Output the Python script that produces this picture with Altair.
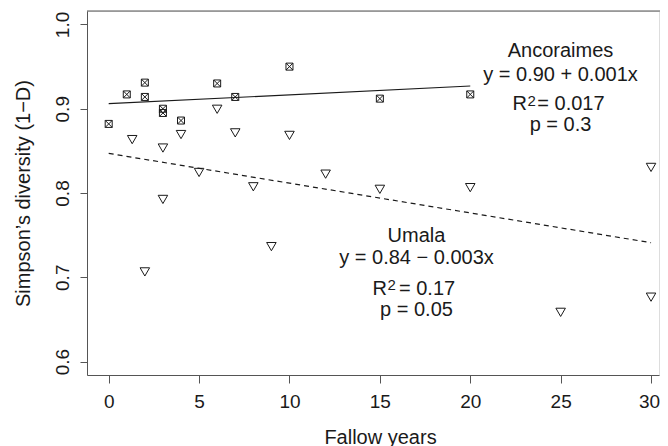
import altair as alt
import pandas as pd

# ---- data ----
anc_years = [0, 1, 2, 2, 3, 3, 4, 6, 7, 10, 15, 20]
anc_div = [0.882, 0.917, 0.931, 0.914, 0.900, 0.895, 0.886, 0.930, 0.914, 0.950, 0.912, 0.917]

uma_years = [1.3, 2, 3, 3, 4, 5, 6, 7, 8, 9, 10, 12, 15, 20, 25, 30, 30]
uma_div = [0.865, 0.708, 0.855, 0.794, 0.871, 0.826, 0.901, 0.873, 0.809, 0.738, 0.870,
           0.824, 0.806, 0.808, 0.660, 0.832, 0.678]

anc_fit_x = [0, 20]
anc_fit_y = [0.906, 0.927]
uma_fit_x = [0, 30]
uma_fit_y = [0.847, 0.741]

x_ticks = [0, 5, 10, 15, 20, 25, 30]
y_ticks = [0.6, 0.7, 0.8, 0.9, 1.0]

anc_labels = ["Ancoraimes", "y = 0.90 + 0.001x", "R", "2", "= 0.017", "p = 0.3"]
uma_labels = ["Umala", "y = 0.84 \u2212 0.003x", "R", "2", "= 0.17", "p = 0.05"]

# ---- layout / style ----
FONT = "Liberation Sans"
INK = "#1a1a1a"
FRAME = "#555555"
W, H = 572, 364

anc_df = pd.DataFrame({"year": anc_years, "div": anc_div})
uma_df = pd.DataFrame({"year": uma_years, "div": uma_div})
anc_fit = pd.DataFrame({"year": anc_fit_x, "div": anc_fit_y})
uma_fit = pd.DataFrame({"year": uma_fit_x, "div": uma_fit_y})

xscale = alt.Scale(domain=[-1.2, 30.44], nice=False, zero=False)
yscale = alt.Scale(domain=[0.584, 1.016], nice=False, zero=False)

xaxis = alt.Axis(
    values=x_ticks, format="d", title="Fallow years", grid=False,
    tickSize=8, labelPadding=24.5, labelBaseline="alphabetic",
    labelOffset={"condition": {"test": "datum.value == 30", "value": -2}, "value": 0},
    labelFontSize=19, labelFont=FONT, labelColor=INK, labelFlush=False,
    labelOverlap=False, domainColor=FRAME, tickColor=FRAME,
    titleFont=FONT, titleFontSize=20, titleFontWeight="normal", titleColor=INK,
    titleX=293, titleY=68, titleBaseline="alphabetic", titleAlign="center",
)
yaxis = alt.Axis(
    values=y_ticks, format=".1f", title="Simpson\u2019s diversity (1\u2212D)", grid=False,
    tickSize=7, labelPadding=12, labelAngle=270, labelAlign="center",
    labelBaseline="alphabetic", labelFontSize=19, labelFont=FONT, labelColor=INK,
    labelFlush=False, labelOverlap=False, domainColor=FRAME, tickColor=FRAME,
    titleFont=FONT, titleFontSize=20, titleFontWeight="normal", titleColor=INK,
    titleAngle=270, titleX=-58, titleY=182, titleBaseline="alphabetic", titleAlign="center",
)

X = alt.X("year:Q", scale=xscale, axis=xaxis)
Y = alt.Y("div:Q", scale=yscale, axis=yaxis)

BOXTIMES = "M-1,-1L1,-1L1,1L-1,1Z M-1,-1L1,1 M1,-1L-1,1"
TRI_DOWN = "M-0.866,-0.5L0.866,-0.5L0,1Z"

squares = alt.Chart(anc_df).mark_point(
    shape=BOXTIMES, size=49, filled=False, stroke=INK, strokeWidth=1, opacity=1
).encode(x=X, y=Y)

triangles = alt.Chart(uma_df).mark_point(
    shape=TRI_DOWN, size=121, filled=False, stroke=INK, strokeWidth=1, opacity=1
).encode(x=X, y=Y)

anc_line = alt.Chart(anc_fit).mark_line(color=INK, strokeWidth=1.2).encode(x=X, y=Y)
uma_line = alt.Chart(uma_fit).mark_line(
    color=INK, strokeWidth=1.2, strokeDash=[5, 4]
).encode(x=X, y=Y)

# top edge of the plot box (the right edge lies outside the picture in the reference)
top_edge = alt.Chart(pd.DataFrame({"k": [0]})).mark_rule(
    color=FRAME, strokeWidth=1
).encode(x=alt.value(0), x2=alt.value(W + 1), y=alt.value(0))


def text_layer(label, px, py, align="center", size=20):
    return alt.Chart(pd.DataFrame({"t": [label]})).mark_text(
        font=FONT, fontSize=size, color=INK, align=align, baseline="alphabetic"
    ).encode(text="t:N", x=alt.value(px), y=alt.value(py))


def block(labels, cx, ys, r_x, sup_y, eq_x):
    title, eq, r, two, r2val, p = labels
    return [
        text_layer(title, cx, ys[0]),
        text_layer(eq, cx, ys[1]),
        text_layer(r, r_x, ys[2], align="right"),
        text_layer(two, r_x + 0.5, sup_y, align="left", size=15),
        text_layer(r2val, eq_x, ys[2], align="left"),
        text_layer(p, cx, ys[3]),
    ]


texts = block(anc_labels, 473.5, [46.3, 70, 99, 119.5], 440, 95, 450.3)
texts += block(uma_labels, 329.5, [231.3, 253.3, 284, 304.5], 300, 279, 312)

chart = alt.layer(top_edge, anc_line, uma_line, squares, triangles, *texts).properties(
    width=W, height=H,
    autosize=alt.AutoSizeParams(type="none"),
    padding={"left": 79, "top": 3, "right": 1, "bottom": 75},
).configure_view(strokeWidth=0).configure(background="white")

chart.save("out.html", embed_options={"renderer": "svg", "actions": False})
